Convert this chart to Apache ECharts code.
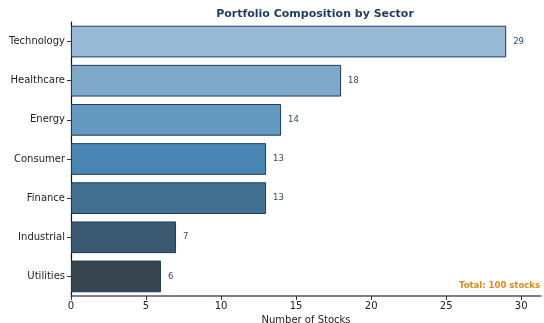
<!DOCTYPE html>
<html>
<head>
<meta charset="utf-8">
<script src="https://cdn.jsdelivr.net/npm/echarts@6/dist/echarts.min.js"></script>
<style>
  html, body { margin: 0; padding: 0; background: #fff; }
  #chart { width: 544px; height: 323px; }
</style>
</head>
<body>
<div id="chart"></div>
<script>
// Sector breakdown of the portfolio (number of holdings per sector)
const sectors = ['Technology', 'Healthcare', 'Energy', 'Consumer', 'Finance', 'Industrial', 'Utilities'];
const stockCounts = [29, 18, 14, 13, 13, 7, 6];
const barColors = ['#98b9d4', '#7fa9c9', '#6499c0', '#4a86b3', '#426f8f', '#3b5a71', '#37454f'];
const xTicks = [0, 5, 10, 15, 20, 25, 30];

const total = stockCounts.reduce((a, b) => a + b, 0);
const font = 'DejaVu Sans';

const chart = echarts.init(document.getElementById('chart'), null, { renderer: 'canvas' });

chart.setOption({
  backgroundColor: '#ffffff',
  animation: false,
  title: {
    text: 'Portfolio Composition by Sector',
    left: 310,
    textAlign: 'center',
    top: 4,
    textStyle: { fontFamily: font, fontSize: 11, fontWeight: 'bold', color: '#1f3a5f' }
  },
  grid: { left: 71, right: 3, top: 22, height: 274, containLabel: false, outerBoundsMode: 'none' },
  xAxis: {
    type: 'value',
    min: 0,
    max: Math.max(...stockCounts) * 1.08,
    interval: 5,
    name: 'Number of Stocks',
    nameLocation: 'middle',
    nameGap: 16,
    nameTextStyle: { fontFamily: font, fontSize: 10, color: '#222' },
    axisLine: { show: true, lineStyle: { color: '#555', width: 1.5 } },
    axisTick: { show: true, length: 4, lineStyle: { color: '#333' } },
    axisLabel: {
      fontFamily: font, fontSize: 10, color: '#222', margin: 5,
      showMaxLabel: false,
      formatter: v => (xTicks.includes(v) ? String(v) : '')
    },
    splitLine: { show: false }
  },
  yAxis: {
    type: 'category',
    data: sectors,
    inverse: true,
    axisLine: { show: true, lineStyle: { color: '#111', width: 1.2 } },
    axisTick: { show: true, length: 4, alignWithLabel: true, lineStyle: { color: '#333' } },
    axisLabel: { fontFamily: font, fontSize: 10, color: '#222', margin: 6 }
  },
  series: [{
    type: 'bar',
    data: stockCounts.map((v, i) => ({
      value: v,
      itemStyle: { color: barColors[i] }
    })),
    barCategoryGap: '19%',
    itemStyle: { borderColor: '#1f3a5f', borderWidth: 1 },
    label: {
      show: true,
      position: 'right',
      distance: 7,
      fontFamily: font,
      fontSize: 8.5,
      color: '#2c4a6e'
    }
  }],
  graphic: [{
    type: 'text',
    right: 4,
    top: 281,
    style: {
      text: 'Total: ' + total + ' stocks',
      fontFamily: font,
      fontSize: 8.5,
      fontWeight: 'bold',
      fill: '#e08a1e'
    }
  }]
});
</script>
</body>
</html>
